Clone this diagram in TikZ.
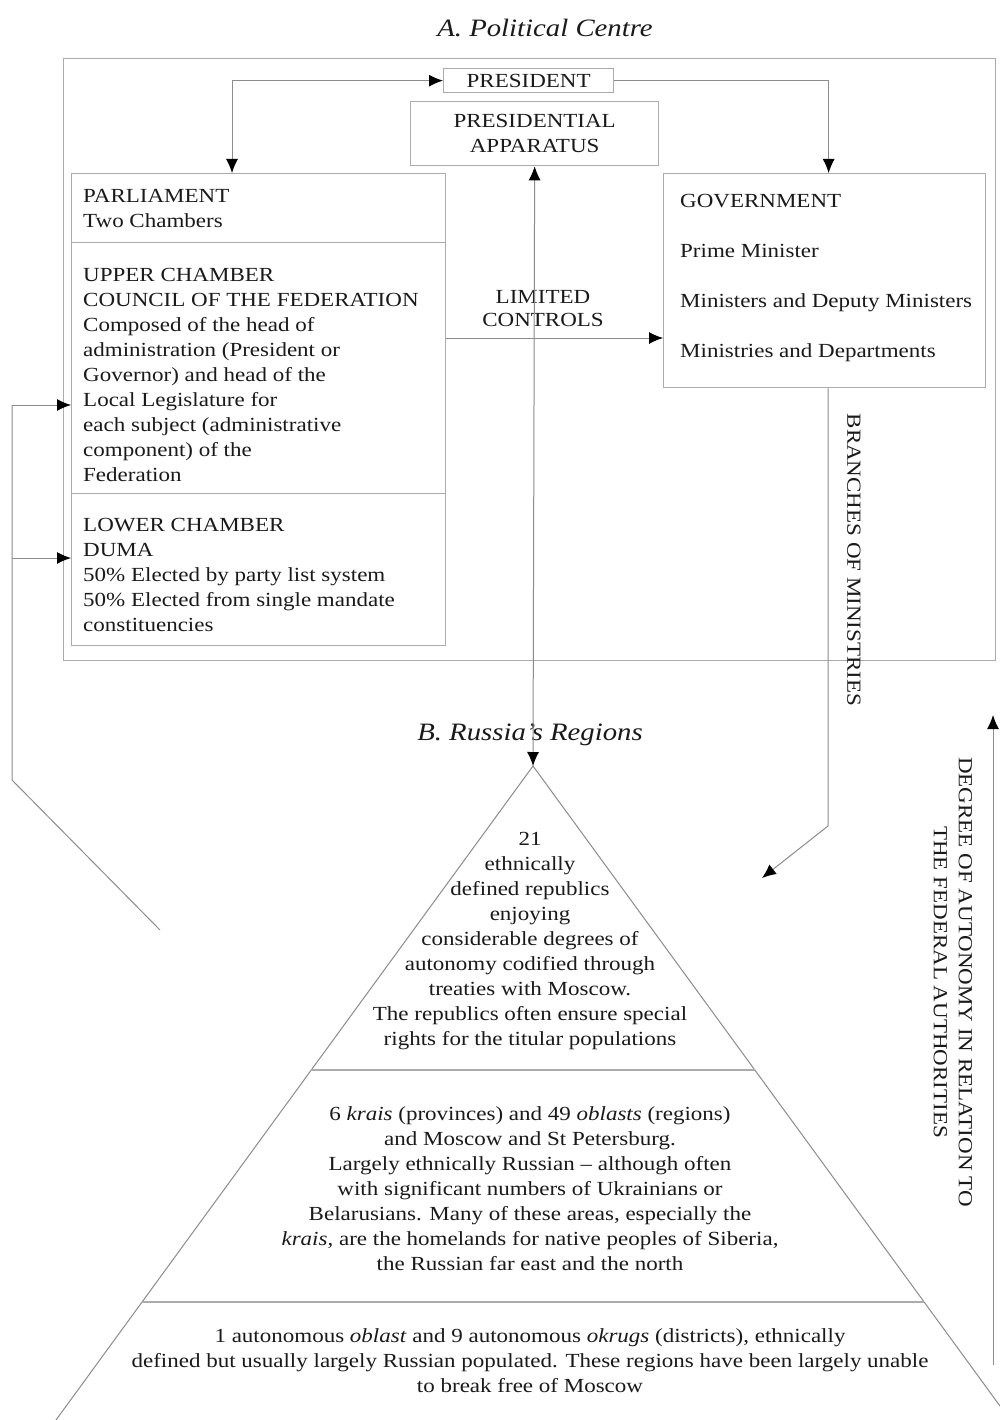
\documentclass[tikz,border=0pt]{standalone}
\usepackage{fontspec}
\setmainfont{Liberation Serif}[FakeStretch=1.15]
\usetikzlibrary{arrows.meta,calc}
\definecolor{ink}{HTML}{1A1A1A}
\definecolor{rulec}{HTML}{8C8C8C}
\definecolor{framec}{HTML}{ABABAB}
\begin{document}
\begin{tikzpicture}[x=1pt,y=-1pt,
  >={Latex[length=14pt,width=12pt,color=black]},
  boxshape/.style={draw=framec,line width=1.3pt,inner sep=0pt,anchor=north west,text=ink,
     font=\fontsize{20}{25}\selectfont,align=center},
  txt/.style={text=ink,font=\fontsize{20}{25}\selectfont,inner sep=0pt},
  head/.style={text=ink,font=\fontsize{25}{30}\selectfont\itshape,inner sep=0pt},
  conn/.style={draw=rulec,line width=1pt},
  pyr/.style={draw=rulec,line width=1pt},
  pyrdiv/.style={draw=framec,line width=1.8pt}]
\useasboundingbox (0,0) rectangle (1000,1420);
\fill[white] (0,0) rectangle (1000,1420);

% A. Political centre
\node[head] (titleA) at (545,28) {A. Political Centre};
\node[boxshape,line width=1.2pt,minimum width=932pt,minimum height=602pt] (centre) at (63,58) {};
\node[boxshape,minimum width=170pt,minimum height=24pt] (pres) at (443,68) {PRESIDENT};
\node[boxshape,minimum width=248pt,minimum height=64pt] (app) at (410,101) {PRESIDENTIAL\\APPARATUS};

\node[boxshape,minimum width=374pt,minimum height=69pt] (parl) at (71,173) {};
\node[boxshape,minimum width=374pt,minimum height=251pt] (upper) at (71,242) {};
\node[boxshape,minimum width=374pt,minimum height=152pt] (lower) at (71,493) {};
\node[boxshape,minimum width=322pt,minimum height=214pt] (gov) at (663,173) {};

% (anchor base = baseline of the last line)
\node[txt,anchor=base west,align=left] (tparl) at (83,228) {PARLIAMENT\\Two Chambers};
\node[txt,anchor=base west,align=left] (tupper) at (83,481) {UPPER CHAMBER\\COUNCIL OF THE FEDERATION\\Composed of the head of\\administration (President or\\Governor) and head of the\\Local Legislature for\\each subject (administrative\\component) of the\\Federation};
\node[txt,anchor=base west,align=left] (tlower) at (83,631) {LOWER CHAMBER\\DUMA\\50\% Elected by party list system\\50\% Elected from single mandate\\constituencies};
\node[txt,anchor=base west,align=left,font=\fontsize{20}{50}\selectfont] (tgov) at (680,357) {GOVERNMENT\\Prime Minister\\Ministers and Deputy Ministers\\Ministries and Departments};
\node[txt,anchor=base,align=center,font=\fontsize{20}{23}\selectfont] (tlc) at (543,326) {LIMITED\\CONTROLS};
\node[txt,rotate=-90] (tbr) at (854,560) {BRANCHES OF MINISTRIES};

% connectors in the centre
\coordinate (parlarr) at (232,173);
\draw[conn,<->] (parlarr) |- (pres.west);
\draw[conn,->] (pres.east) -| ([xshift=4pt]gov.north);
\coordinate (lcy) at (543,338);
\draw[conn,->] (upper.east |- lcy) -- (gov.west |- lcy);

% B. Regions
\node[head] (titleB) at (530,735) {B. Russia's Regions};
\coordinate (apex) at (533,766);
\coordinate (pl) at (56,1420);
\coordinate (pr) at (1000,1406);
\coordinate (d1l) at (311,1070);
\coordinate (d1r) at (755,1070);
\coordinate (d2l) at (142,1302);
\coordinate (d2r) at (924,1302);
\draw[pyr] (pl) -- (apex) -- (pr);
\draw[pyrdiv] (d1l) -- (d1r);
\draw[pyrdiv] (d2l) -- (d2r);
\draw[conn,<->] (app.south) -- (apex);

\node[txt,anchor=base,align=center] (tier1) at (530,1045) {21\\ethnically\\defined republics\\enjoying\\considerable degrees of\\autonomy codified through\\treaties with Moscow.\\The republics often ensure special\\rights for the titular populations};
\node[txt,anchor=base,align=center] (tier2) at (530,1270) {6 \textit{krais} (provinces) and 49 \textit{oblasts} (regions)\\and Moscow and St Petersburg.\\Largely ethnically Russian -- although often\\with significant numbers of Ukrainians or\\Belarusians. Many of these areas, especially the\\\textit{krais}, are the homelands for native peoples of Siberia,\\the Russian far east and the north};
\node[txt,anchor=base,align=center] (tier3) at (530,1392) {1 autonomous \textit{oblast} and 9 autonomous \textit{okrugs} (districts), ethnically\\defined but usually largely Russian populated. These regions have been largely unable\\to break free of Moscow};

% branches of ministries
\coordinate (brk) at (828,826);
\coordinate (brend) at (762,878);
\draw[conn,->] (brk |- gov.south) -- (brk) -- (brend);

% left connector to the chambers
\coordinate (lft1) at (12,405);
\coordinate (lft2) at (12,558);
\coordinate (lft3) at (12,780);
\coordinate (lft4) at (160,930);
\draw[conn,->] (lft1) -- (upper.west |- lft1);
\draw[conn,->] (lft2) -- (lower.west |- lft2);
\draw[conn] (lft1) -- (lft3) -- (lft4);

% degree of autonomy
\coordinate (autb) at (993,1365);
\coordinate (autt) at (993,715);
\draw[conn,->] (autb) -- (autt);
\node[txt,rotate=-90,align=center] (tdeg) at (953,982) {DEGREE OF AUTONOMY IN RELATION TO\\THE FEDERAL AUTHORITIES};
\end{tikzpicture}
\end{document}
